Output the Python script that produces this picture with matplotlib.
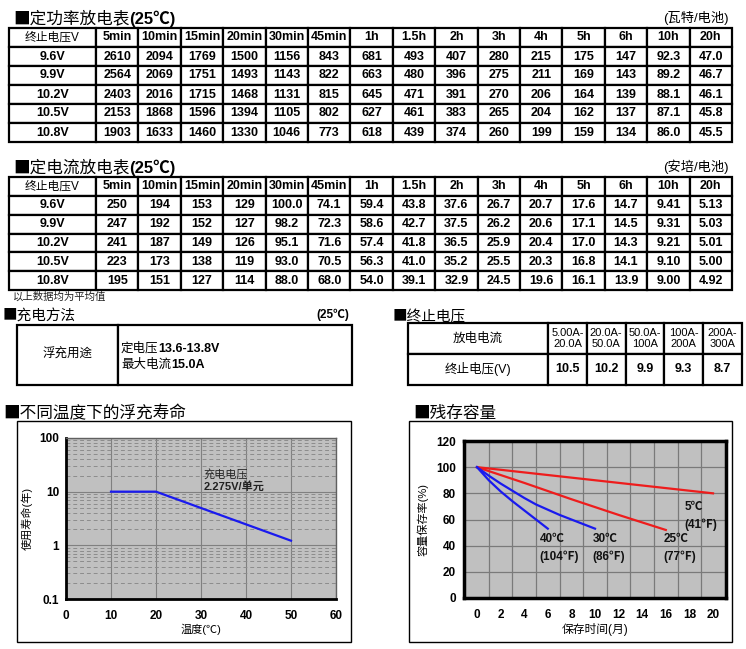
import matplotlib
matplotlib.use('Agg')
import matplotlib.pyplot as plt
from matplotlib.patches import Rectangle
from matplotlib.ticker import LogLocator, NullFormatter

plt.rcParams['font.family'] = ['Liberation Sans', 'Noto Sans CJK SC', 'DejaVu Sans']
CJK = ['Noto Sans CJK SC', 'DejaVu Sans']

# ---- data ----
durations = ['5min', '10min', '15min', '20min', '30min', '45min', '1h', '1.5h',
             '2h', '3h', '4h', '5h', '6h', '10h', '20h']
end_volts = ['9.6V', '9.9V', '10.2V', '10.5V', '10.8V']
power_w = [
    ['2610', '2094', '1769', '1500', '1156', '843', '681', '493', '407', '280', '215', '175', '147', '92.3', '47.0'],
    ['2564', '2069', '1751', '1493', '1143', '822', '663', '480', '396', '275', '211', '169', '143', '89.2', '46.7'],
    ['2403', '2016', '1715', '1468', '1131', '815', '645', '471', '391', '270', '206', '164', '139', '88.1', '46.1'],
    ['2153', '1868', '1596', '1394', '1105', '802', '627', '461', '383', '265', '204', '162', '137', '87.1', '45.8'],
    ['1903', '1633', '1460', '1330', '1046', '773', '618', '439', '374', '260', '199', '159', '134', '86.0', '45.5'],
]
current_a = [
    ['250', '194', '153', '129', '100.0', '74.1', '59.4', '43.8', '37.6', '26.7', '20.7', '17.6', '14.7', '9.41', '5.13'],
    ['247', '192', '152', '127', '98.2', '72.3', '58.6', '42.7', '37.5', '26.2', '20.6', '17.1', '14.5', '9.31', '5.03'],
    ['241', '187', '149', '126', '95.1', '71.6', '57.4', '41.8', '36.5', '25.9', '20.4', '17.0', '14.3', '9.21', '5.01'],
    ['223', '173', '138', '119', '93.0', '70.5', '56.3', '41.0', '35.2', '25.5', '20.3', '16.8', '14.1', '9.10', '5.00'],
    ['195', '151', '127', '114', '88.0', '68.0', '54.0', '39.1', '32.9', '24.5', '19.6', '16.1', '13.9', '9.00', '4.92'],
]
charge_use = '浮充用途'
charge_lines = [('定电压', '13.6-13.8V'), ('最大电流', '15.0A')]
disch_ranges = ['5.00A-\n20.0A', '20.0A-\n50.0A', '50.0A-\n100A', '100A-\n200A', '200A-\n300A']
cutoff_v = ['10.5', '10.2', '9.9', '9.3', '8.7']

life_temp = [10, 20, 30, 40, 50]
life_years = [10, 10, 4.96, 2.46, 1.22]

m5, c5 = [0, 20], [100, 80]
m25, c25 = [0, 4, 8, 12, 16], [100, 88, 75.5, 63.5, 52]
m30, c30 = [0, 1, 2, 3, 4, 5, 6, 7, 8, 9, 10], [100, 93.5, 87.5, 82, 76.5, 71.5, 67.5, 63.5, 60, 56.5, 53]
m40, c40 = [0, 1, 2, 3, 4, 5, 6], [100, 90, 81.5, 74, 67, 60, 53]

W, H = 746, 649
fig = plt.figure(figsize=(W / 100, H / 100), dpi=100, facecolor='white')
bg = fig.add_axes([0, 0, 1, 1])
bg.axis('off')
bg.set_zorder(10)
bg.set_xlim(0, W)
bg.set_ylim(H, 0)


def box(x0, y0, x1, y1):
    return [x0 / W, 1 - y1 / H, (x1 - x0) / W, (y1 - y0) / H]


def rich(x, y, parts, size):
    # chain pieces of text (text, weight, family) one after another
    s, w, f = parts[0]
    t = bg.text(x, y, s, fontsize=size, fontweight=w, family=f, va='bottom', ha='left')
    for s, w, f in parts[1:]:
        t = bg.annotate(s, xy=(1, 0), xycoords=t, fontsize=size, fontweight=w, family=f,
                        va='bottom', ha='left')
    return t


SANS = ['Liberation Sans', 'Noto Sans CJK SC', 'DejaVu Sans']


def make_table(rect, rows, widths, size=9):
    ax = fig.add_axes(box(*rect))
    ax.axis('off')
    tb = ax.table(cellText=rows, colWidths=[w / sum(widths) for w in widths],
                  cellLoc='center', bbox=[0, 0, 1, 1])
    tb.auto_set_font_size(False)
    tb.set_fontsize(size)
    for (r, c), cell in tb.get_celld().items():
        cell.set_linewidth(1.6)
        cell.set_edgecolor('black')
        cell.get_text().set_fontweight('bold')
    return tb


# ---- discharge tables ----
col_w = [87] + [42.4] * 15
for top, bottom, title, unit, vals in [(28, 142, '定功率放电表', '(瓦特/电池)', power_w),
                                        (177, 290, '定电流放电表', '(安培/电池)', current_a)]:
    rows = [['终止电压V'] + durations] + [[v] + r for v, r in zip(end_volts, vals)]
    tb = make_table((9, top, 732, bottom), rows, col_w)
    tb[0, 0].get_text().set_fontweight('normal')
    tb[0, 0].get_text().set_fontsize(8.5)
    rich(13, top - 1, [('■' + title, 'normal', CJK), ('(25℃)', 'bold', SANS)], 12)
    bg.text(729, top - 3, unit, fontsize=9.5, ha='right', va='bottom')

bg.text(13, 297, '以上数据均为平均值', fontsize=7.5, va='center', ha='left', color='#222222')

# ---- charging method ----
rich(3, 324, [('■充电方法', 'normal', CJK)], 10.5)
bg.text(349, 321, '(25℃)', fontsize=8.5, fontweight='bold', ha='right', va='bottom')
tc = make_table((17, 325, 352, 385), [[charge_use, '']], [101, 234])
tc[0, 0].get_text().set_fontweight('normal')
tc[0, 0].get_text().set_fontsize(9)
for i, (a, b) in enumerate(charge_lines):
    rich(121, 355 + i * 16, [(a, 'normal', CJK), (b, 'bold', SANS)], 9)

# ---- cut-off voltage ----
rich(393, 324, [('■终止电压', 'normal', CJK)], 10.5)
tv = make_table((408, 323, 742, 385), [['放电电流'] + disch_ranges, ['终止电压(V)'] + cutoff_v],
                [140] + [38.8] * 5)
for c in range(6):
    tv[0, c].get_text().set_fontweight('normal')
    tv[0, c].get_text().set_fontsize(8 if c else 9)
tv[1, 0].get_text().set_fontweight('normal')

# ---- float life ----
rich(3, 422, [('■不同温度下的浮充寿命', 'normal', CJK)], 12)
fig.add_artist(Rectangle((17 / W, 1 - 642 / H), (351 - 17) / W, (642 - 421) / H,
                         fill=False, lw=1, ec='black', transform=fig.transFigure))
ax1 = fig.add_axes(box(66, 438, 336, 599))
ax1.set_facecolor('#c0c0c0')
ax1.set_yscale('log')
ax1.set_xlim(0, 60)
ax1.set_ylim(0.1, 100)
ax1.set_xticks(range(0, 61, 10))
ax1.set_yticks([0.1, 1, 10, 100])
ax1.set_yticklabels(['0.1', '1', '10', '100'])
ax1.yaxis.set_minor_locator(LogLocator(base=10, subs=range(2, 10)))
ax1.yaxis.set_minor_formatter(NullFormatter())
ax1.grid(True, which='major', color='#808080', lw=0.8, ls='-')
ax1.grid(True, which='minor', axis='y', color='#8c8c8c', lw=0.7, ls=(0, (4, 3)))
ax1.set_axisbelow(True)
ax1.tick_params(which='both', length=0, labelsize=8.5)
ax1.tick_params(axis='y', pad=5)
ax1.tick_params(axis='x', pad=8)
for lab in ax1.get_xticklabels() + ax1.get_yticklabels():
    lab.set_fontweight('bold')
for s in ['left', 'bottom']:
    ax1.spines[s].set_linewidth(2)
    ax1.spines[s].set_color('black')
for s in ['top', 'right']:
    ax1.spines[s].set_linewidth(1)
    ax1.spines[s].set_color('#606060')
ax1.plot(life_temp, life_years, color='#1a1aee', lw=1.6)
ax1.text(30.5, 21, '充电电压', fontsize=8, va='center', color='#222222')
ax1.text(30.5, 12.3, '2.275V/单元', fontsize=8, va='center', fontweight='bold', color='#222222')
ax1.set_xlabel('温度(℃)', fontsize=8, labelpad=1)
ax1.set_ylabel('使用寿命(年)', fontsize=8)
ax1.yaxis.set_label_coords(-0.122, 0.5)

# ---- residual capacity ----
rich(413, 422, [('■残存容量', 'normal', CJK)], 12)
fig.add_artist(Rectangle((409 / W, 1 - 642 / H), (732 - 409) / W, (642 - 421) / H,
                         fill=False, lw=1, ec='black', transform=fig.transFigure))
ax2 = fig.add_axes(box(464, 441, 726, 598))
ax2.set_facecolor('#c0c0c0')
ax2.set_xlim(-1.1, 21.1)
ax2.set_ylim(0, 120)
ax2.set_xticks(range(0, 21, 2))
ax2.set_xticks(range(1, 20, 2), minor=True)
ax2.set_yticks(range(0, 121, 20))
ax2.grid(True, which='minor', axis='x', color='#7a7a7a', lw=0.9)
ax2.grid(True, which='major', axis='y', color='#7a7a7a', lw=0.9)
ax2.set_axisbelow(True)
ax2.tick_params(which='both', length=0, labelsize=8.5)
ax2.tick_params(axis='y', pad=6)
ax2.tick_params(axis='x', pad=8)
for lab in ax2.get_xticklabels() + ax2.get_yticklabels():
    lab.set_fontweight('bold')
for s in ax2.spines.values():
    s.set_linewidth(2.5)
    s.set_color('black')
ax2.plot(m5, c5, color='#ee1c1c', lw=1.6)
ax2.plot(m25, c25, color='#ee1c1c', lw=1.6)
ax2.plot(m30, c30, color='#1a1aee', lw=1.6)
ax2.plot(m40, c40, color='#1a1aee', lw=1.6)
for x, y, s in [(5.3, 38, '40℃\n(104℉)'), (9.8, 38, '30℃\n(86℉)'),
                (15.8, 38, '25℃\n(77℉)'), (17.6, 63, '5℃\n(41℉)')]:
    ax2.text(x, y, s, fontsize=8.5, fontweight='bold', va='center', ha='left',
             linespacing=1.6, color='#111111')
ax2.set_xlabel('保存时间(月)', fontsize=8.5, labelpad=1)
ax2.set_ylabel('容量保存率(%)', fontsize=8)
ax2.yaxis.set_label_coords(-0.137, 0.5)

fig.savefig('out.png', dpi=100, facecolor='white')
